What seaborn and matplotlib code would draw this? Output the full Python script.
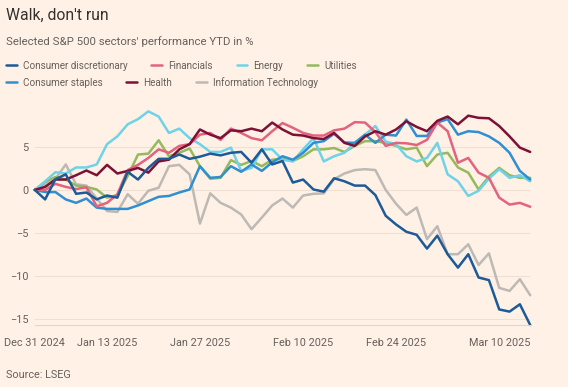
"""Walk, don't run: S&P 500 sectors YTD performance (FT style line chart)."""
import matplotlib

matplotlib.use("Agg")
import matplotlib.pyplot as plt
import pandas as pd
import seaborn as sns
from matplotlib.ticker import FixedLocator, NullFormatter

BG = "#FFF1E5"
GREY = "#66605C"

# trading days on the x axis (one position per session)
trading_days = [
    "2024-12-31", "2025-01-02", "2025-01-03", "2025-01-06", "2025-01-07", "2025-01-08",
    "2025-01-10", "2025-01-13", "2025-01-14", "2025-01-15", "2025-01-16", "2025-01-17",
    "2025-01-21", "2025-01-22", "2025-01-23", "2025-01-24", "2025-01-27", "2025-01-28",
    "2025-01-29", "2025-01-30", "2025-01-31", "2025-02-03", "2025-02-04", "2025-02-05",
    "2025-02-06", "2025-02-07", "2025-02-10", "2025-02-11", "2025-02-12", "2025-02-13",
    "2025-02-14", "2025-02-18", "2025-02-19", "2025-02-20", "2025-02-21", "2025-02-24",
    "2025-02-25", "2025-02-26", "2025-02-27", "2025-02-28", "2025-03-03", "2025-03-04",
    "2025-03-05", "2025-03-06", "2025-03-07", "2025-03-10", "2025-03-11", "2025-03-12",
    "2025-03-13",
]
labelled_days = ["2024-12-31", "2025-01-13", "2025-01-27", "2025-02-10", "2025-02-24", "2025-03-10"]

consumer_discretionary = [
    0, -1.1, 1.25, 1.8, -0.45, -0.3, -1.1, -0.65, -0.9, 2.1, 1.2, 2.55, 3.6, 3.6, 4.1, 3.6,
    3.85, 4.2, 4.0, 4.3, 4.4, 3.15, 4.7, 2.95, 3.35, 0.85, 1.2, 0.05, -0.2, 1.35, 1.0, 0.5,
    0.5, -0.6, -3.0, -4.0, -4.85, -5.2, -6.8, -5.3, -7.45, -9.0, -7.45, -10.15, -10.45,
    -13.85, -14.1, -13.25, -15.65,
]
financials = [
    0, 0, 0.7, 0.35, 0.1, 0.3, -1.9, -1.5, -0.5, 2.3, 2.9, 3.7, 4.7, 4.3, 5.1, 5.3, 6.4,
    6.6, 5.8, 7.1, 6.6, 6.0, 5.75, 6.8, 7.75, 7.2, 6.6, 6.3, 6.3, 6.9, 7.1, 7.85, 7.8, 6.7,
    5.1, 5.45, 5.4, 5.2, 5.8, 7.8, 6.8, 3.15, 3.7, 2.0, 1.4, -0.9, -1.7, -1.5, -1.95,
]
energy = [
    0, 1.0, 2.05, 1.9, 2.6, 2.6, 2.95, 5.3, 6.2, 7.6, 8.2, 9.1, 8.5, 6.6, 7.1, 6.0, 5.3,
    4.4, 4.4, 4.9, 2.2, 2.55, 4.7, 4.7, 3.5, 3.3, 4.7, 6.0, 3.3, 3.9, 4.3, 5.45, 6.4, 7.4,
    5.6, 5.3, 3.9, 3.3, 3.7, 5.45, 1.8, 1.0, -0.7, -0.1, 1.3, 2.4, 1.4, 1.7, 1.0,
]
utilities = [
    0, 0.9, 1.5, 1.2, 0.5, 0.35, 0.05, -0.9, -0.6, 1.6, 4.1, 4.2, 5.75, 3.9, 4.3, 4.8, 2.75,
    1.3, 1.4, 3.45, 2.9, 3.35, 2.75, 3.5, 3.6, 3.35, 3.9, 4.7, 4.7, 4.85, 4.4, 5.1, 5.65,
    5.65, 5.45, 5.1, 4.7, 4.9, 2.75, 4.1, 4.3, 2.6, 2.0, 0.05, 1.55, 2.55, 1.7, 1.4, 1.4,
]
consumer_staples = [
    0, -0.25, -0.25, -1.1, -1.5, -1.0, -2.05, -2.2, -2.2, -2.2, -1.8, -1.3, -0.8, -0.7,
    -0.3, 0.05, 2.75, 1.4, 1.5, 2.75, 2.1, 2.95, 2.2, 3.2, 3.9, 3.5, 4.3, 5.45, 5.65, 6.5,
    5.5, 5.45, 6.4, 5.45, 6.4, 6.3, 8.15, 6.25, 6.25, 7.8, 8.2, 6.4, 6.8, 6.7, 6.2, 5.45,
    4.3, 2.2, 1.2,
]
health = [
    0, 0.35, 1.2, 1.2, 1.7, 2.25, 1.7, 2.9, 1.9, 2.2, 2.55, 2.0, 3.3, 3.5, 4.7, 5.3, 7.0,
    6.4, 6.0, 6.9, 6.8, 7.1, 6.8, 7.8, 7.0, 6.4, 6.3, 6.0, 5.9, 6.6, 5.45, 5.1, 6.2, 6.8,
    6.4, 7.0, 7.95, 7.3, 6.8, 8.0, 8.5, 7.6, 8.6, 8.35, 8.3, 7.4, 6.2, 4.9, 4.4,
]
information_technology = [
    0, 0.55, 1.3, 2.95, 0.65, 0.5, -1.0, -2.45, -2.55, -0.5, -1.6, -0.1, 0.25, 2.75, 2.9,
    1.8, -3.9, -0.4, -1.5, -2.05, -2.85, -4.55, -3.2, -1.8, -1.0, -2.05, -0.65, -0.45, -0.4,
    1.25, 1.9, 2.3, 2.4, 2.3, 0.0, -1.6, -2.9, -2.05, -5.7, -4.2, -7.45, -7.45, -6.3, -8.7,
    -7.35, -11.35, -11.7, -10.35, -12.2,
]

series = {
    "Consumer discretionary": consumer_discretionary,
    "Financials": financials,
    "Energy": energy,
    "Utilities": utilities,
    "Consumer staples": consumer_staples,
    "Health": health,
    "Information Technology": information_technology,
}
palette = {
    "Consumer discretionary": "#1C5A98",
    "Financials": "#E3637F",
    "Energy": "#6ED3E8",
    "Utilities": "#94BA5E",
    "Consumer staples": "#2E8FD2",
    "Health": "#7D1135",
    "Information Technology": "#BDB9B4",
}
draw_order = ["Information Technology", "Utilities", "Energy", "Consumer staples",
              "Financials", "Health", "Consumer discretionary"]
legend_rows = [["Consumer discretionary", "Financials", "Energy", "Utilities"],
               ["Consumer staples", "Health", "Information Technology"]]

sns.set_theme(style="white")
plt.rcParams["font.family"] = ["Roboto", "DejaVu Sans"]

df = pd.DataFrame(
    [(i, name, v) for name, vals in series.items() for i, v in enumerate(vals)],
    columns=["day", "sector", "value"],
)

W, H = 568, 387
fig = plt.figure(figsize=(W / 100, H / 100), dpi=100, facecolor=BG)
ax = fig.add_axes([34.8 / W, 62 / H, 495.4 / W, 214.5 / H], facecolor=BG)

sns.lineplot(data=df, x="day", y="value", hue="sector", hue_order=draw_order,
             palette=palette, linewidth=1.8, sort=False, ax=ax)
for ln in ax.lines:
    ln.set_clip_on(False)

handles, labels = ax.get_legend_handles_labels()
lookup = dict(zip(labels, handles))
ax.get_legend().remove()

ax.set_xlim(0, len(trading_days) - 1)
ax.set_ylim(-15.65, 9.2)
ax.set_xlabel("")
ax.set_ylabel("")

# x axis: minor tick every session, labels on selected dates
major_pos = [trading_days.index(d) for d in labelled_days]
ax.xaxis.set_major_locator(FixedLocator(major_pos))
ax.set_xticklabels([pd.Timestamp(d).strftime("%b %d %Y") for d in labelled_days])
ax.xaxis.set_minor_locator(FixedLocator(range(len(trading_days))))
ax.xaxis.set_minor_formatter(NullFormatter())
ax.tick_params(axis="x", which="both", length=6, width=0.8, color="#E3D5C9",
               labelsize=7.8, labelcolor=GREY, pad=3.5)
ax.set_yticks([-15, -10, -5, 0, 5])
ax.tick_params(axis="y", length=0, labelsize=7.8, labelcolor=GREY, pad=4.5)
ax.grid(axis="y", color="#F0E0D3", linewidth=0.8)
ax.set_axisbelow(True)
sns.despine(ax=ax, left=True)
ax.spines["bottom"].set_color("#E3D5C9")
ax.spines["bottom"].set_linewidth(0.8)

fig.text(6 / W, 1 - 15 / H, "Walk, don't run", fontsize=11.3, color="#33302E", va="center")
fig.text(6 / W, 1 - 41.5 / H, "Selected S&P 500 sectors' performance YTD in %",
         fontsize=8.2, color=GREY, va="center")
fig.text(6 / W, 1 - 375 / H, "Source: LSEG", fontsize=7.8, color=GREY, va="center")

for row, ycen in zip(legend_rows, [65.7, 82.3]):
    fig.legend([lookup[n] for n in row], row, loc="center left",
               bbox_to_anchor=(6 / W, 1 - ycen / H), ncol=len(row), frameon=False,
               fontsize=7.15, labelcolor=GREY, handlelength=1.1, handletextpad=0.6,
               columnspacing=2.4, borderpad=0, borderaxespad=0)

fig.savefig("out.png", dpi=100, facecolor=BG)
